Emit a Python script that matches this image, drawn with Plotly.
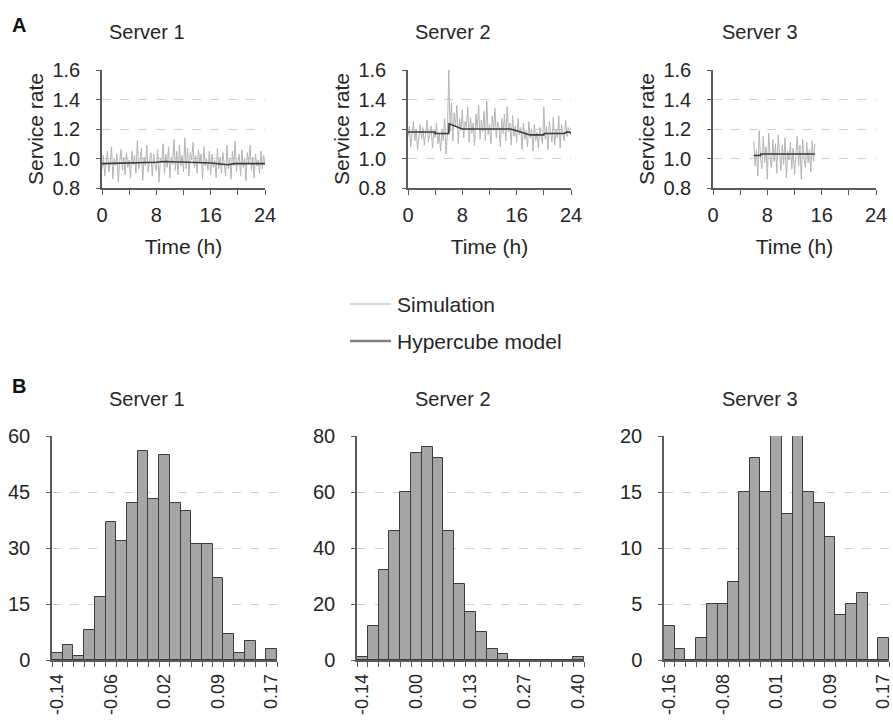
import plotly.graph_objects as go

W, H = 893, 722

# ---------------- Data ----------------
time_step = 0.2
sim_s1 = [0.93,1.02,0.88,0.99,1.05,0.91,0.97,1.08,0.86,1.00,
          0.95,1.03,0.84,0.98,1.06,0.92,1.01,0.89,1.04,0.94,
          0.99,0.87,1.05,0.96,1.02,0.90,1.12,0.93,0.98,1.07,
          0.85,1.01,0.95,1.09,0.91,0.99,1.04,0.88,1.03,0.96,
          0.92,1.06,0.84,1.00,0.97,1.10,0.90,1.03,0.94,1.08,
          0.87,1.01,0.96,1.13,0.92,1.05,0.89,1.09,0.95,1.02,
          0.91,1.14,0.93,1.07,0.88,1.04,0.99,1.11,0.94,1.02,
          0.90,1.06,0.97,1.03,0.86,1.08,0.95,1.00,0.92,1.05,
          0.89,1.03,0.94,0.99,0.87,1.07,0.93,1.01,0.90,1.04,
          0.96,0.88,1.09,0.93,1.00,0.86,1.05,0.95,1.12,0.91,
          0.98,1.03,0.88,1.06,0.94,1.00,0.85,1.04,0.97,1.09,
          0.92,1.01,0.87,1.03,0.95,0.99,0.90,1.05,0.93,1.02,
          0.96]
sim_s2 = [1.15,1.22,1.08,1.19,1.25,1.12,1.20,1.06,1.17,1.23,
          1.13,1.21,1.09,1.18,1.26,1.11,1.16,1.22,1.07,1.19,
          1.14,1.24,1.10,1.17,1.05,1.20,1.12,1.27,1.03,1.15,
          1.60,1.18,1.38,1.12,1.31,1.22,1.36,1.10,1.27,1.19,
          1.33,1.14,1.25,1.21,1.35,1.11,1.28,1.17,1.24,1.09,
          1.30,1.20,1.36,1.13,1.26,1.18,1.32,1.12,1.39,1.16,
          1.23,1.10,1.29,1.19,1.34,1.14,1.25,1.21,1.08,1.27,
          1.17,1.30,1.12,1.35,1.18,1.24,1.09,1.29,1.15,1.22,
          1.11,1.27,1.16,1.21,1.06,1.24,1.13,1.19,1.08,1.25,
          1.14,1.20,1.05,1.23,1.12,1.18,1.07,1.21,1.15,1.10,
          1.35,1.13,1.22,1.06,1.25,1.16,1.11,1.28,1.09,1.20,
          1.14,1.29,1.07,1.23,1.17,1.12,1.26,1.15,1.21,1.18,
          1.16]
sim_s3_start = 6.0
sim_s3 = [1.12,0.95,1.06,0.88,1.19,1.00,0.93,1.15,0.97,1.08,
          0.86,1.17,1.01,0.94,1.13,0.98,1.10,0.90,1.16,1.03,
          0.92,1.09,0.96,1.14,0.87,1.05,0.99,1.11,0.93,1.07,
          0.89,1.02,1.15,0.95,1.09,0.86,1.13,1.00,0.94,1.11,
          0.97,1.06,0.91,1.12,0.98,1.10]

model_s1_t = [0, 6, 8, 9, 16, 18.5, 19.5, 24]
model_s1_v = [0.965, 0.970, 0.975, 0.980, 0.970, 0.958, 0.965, 0.965]
model_s2_t = [0, 4, 4.01, 6, 6.05, 8, 15, 15.5, 18, 20, 20.05, 23, 23.5, 24]
model_s2_v = [1.18, 1.18, 1.17, 1.17, 1.235, 1.20, 1.20, 1.195, 1.16, 1.16, 1.17, 1.17, 1.18, 1.175]
model_s3_t = [6, 7, 7.01, 15]
model_s3_v = [1.02, 1.02, 1.03, 1.03]

hist_s1 = [2,4,1,8,17,37,32,42,56,43,55,42,40,31,31,22,7,2,5,0,3]
hist_s1_labels = ["-0.14", "-0.06", "0.02", "0.09", "0.17"]
hist_s2 = [1,12,32,46,60,74,76,72,46,27,17,10,4,2,0,0,0,0,0,0,1]
hist_s2_labels = ["-0.14", "0.00", "0.13", "0.27", "0.40"]
hist_s3 = [3,1,0,2,5,5,7,15,18,15,20,13,20,15,14,11,4,5,6,0,2]
hist_s3_labels = ["-0.16", "-0.08", "0.01", "0.09", "0.17"]
hist_label_pos = [0, 5, 10, 15, 20]

titles = ["Server 1", "Server 2", "Server 3"]

# ---------------- Style ----------------
FONT = "Liberation Sans, Arial, sans-serif"
TXT = "#262626"
AX = "#5a5a5a"
GRID = "#d0d0d0"
SIM_C = "#b4b4b4"
MOD_C = "#3a3a3a"
BAR_C = "#a6a6a6"
BAR_L = "#3c3c3c"
TICK_FS = 20
TITLE_FS = 21

def px_x(p): return p / W
def px_y(p): return 1 - p / H

fig = go.Figure()

top_x = [(102, 265), (408, 571), (713, 876)]
top_y = (70, 188)
bot_x = [(52, 277), (357, 584), (664, 889)]
bot_y = (436, 660)

def tsim(n, start=0.0):
    return [round(start + i * time_step, 3) for i in range(n)]

sims = [(tsim(len(sim_s1)), sim_s1), (tsim(len(sim_s2)), sim_s2), (tsim(len(sim_s3), sim_s3_start), sim_s3)]
models = [(model_s1_t, model_s1_v), (model_s2_t, model_s2_v), (model_s3_t, model_s3_v)]
hists = [(hist_s1, hist_s1_labels, 15, 60), (hist_s2, hist_s2_labels, 20, 80), (hist_s3, hist_s3_labels, 5, 20)]

layout = {}
for i in range(3):
    n = i + 1
    xa = "x" if n == 1 else f"x{n}"
    ya = "y" if n == 1 else f"y{n}"
    (st, sv), (mt, mv) = sims[i], models[i]
    fig.add_trace(go.Scatter(x=st, y=sv, mode="lines", line=dict(color=SIM_C, width=1),
                             xaxis=xa, yaxis=ya, showlegend=False, hoverinfo="skip"))
    fig.add_trace(go.Scatter(x=mt, y=mv, mode="lines", line=dict(color=MOD_C, width=1.6),
                             xaxis=xa, yaxis=ya, showlegend=False, hoverinfo="skip"))
    key = "" if n == 1 else str(n)
    layout[f"xaxis{key}"] = dict(
        domain=[px_x(top_x[i][0]), px_x(top_x[i][1])], anchor=ya, range=[0, 24], automargin=False,
        tickvals=[0, 8, 16, 24], ticks="outside", ticklen=5, tickcolor=AX, ticklabelstandoff=3,
        ticklabeloverflow="allow",
        minor=dict(tickvals=[4, 12, 20], ticks="outside", ticklen=5, tickcolor=AX),
        showline=True, linecolor=AX, linewidth=1.5, showgrid=False, zeroline=False,
        tickfont=dict(size=TICK_FS, color=TXT, family=FONT),
        title=dict(text="Time (h)", font=dict(size=TITLE_FS, color=TXT, family=FONT), standoff=15),
    )
    layout[f"yaxis{key}"] = dict(
        domain=[px_y(top_y[1]), px_y(top_y[0])], anchor=xa, range=[0.8, 1.6], automargin=False,
        tickvals=[0.8, 1.0, 1.2, 1.4, 1.6], tickformat=".1f", ticks="outside", ticklen=4, tickcolor=AX,
        ticklabelstandoff=12, ticklabeloverflow="allow",
        showline=True, linecolor=AX, linewidth=1.5, showgrid=True, gridcolor=GRID, griddash="dash",
        gridwidth=1, zeroline=False,
        tickfont=dict(size=TICK_FS, color=TXT, family=FONT),
        title=dict(text="Service rate", font=dict(size=TITLE_FS, color=TXT, family=FONT), standoff=3),
    )

for i in range(3):
    n = i + 4
    xa, ya = f"x{n}", f"y{n}"
    counts, labels, dt, ymax = hists[i]
    fig.add_trace(go.Bar(x=list(range(len(counts))), y=counts, width=1,
                         marker=dict(color=BAR_C, line=dict(color=BAR_L, width=1)),
                         xaxis=xa, yaxis=ya, showlegend=False, hoverinfo="skip"))
    layout[f"xaxis{n}"] = dict(
        domain=[px_x(bot_x[i][0]), px_x(bot_x[i][1])], anchor=ya, range=[-0.5, len(counts) - 0.5],
        automargin=False, ticklabeloverflow="allow",
        tickvals=hist_label_pos, ticktext=labels, tickangle=-90, ticks="", ticklabelstandoff=5,
        minor=dict(tick0=0.5, dtick=1, ticks="outside", ticklen=5, tickcolor=AX, showgrid=False),
        showline=True, linecolor=AX, linewidth=1.5, showgrid=False, zeroline=False,
        tickfont=dict(size=18, color=TXT, family=FONT),
    )
    layout[f"yaxis{n}"] = dict(
        domain=[px_y(bot_y[1]), px_y(bot_y[0])], anchor=xa, range=[0, ymax], automargin=False,
        dtick=dt, ticks="outside", ticklen=4, tickcolor=AX, ticklabelstandoff=12,
        ticklabeloverflow="allow",
        showline=True, linecolor=AX, linewidth=1.5, showgrid=True, gridcolor=GRID, griddash="dash",
        zeroline=False, tickfont=dict(size=TICK_FS, color=TXT, family=FONT),
    )

annotations = []
top_title_x = [147, 453, 760]
bot_title_x = [147, 453, 760]
for i in range(3):
    annotations.append(dict(text=titles[i], x=px_x(top_title_x[i]), y=px_y(32), xref="paper", yref="paper",
                            showarrow=False, xanchor="center", yanchor="middle",
                            font=dict(size=20, color=TXT, family=FONT)))
    annotations.append(dict(text=titles[i], x=px_x(bot_title_x[i]), y=px_y(399), xref="paper", yref="paper",
                            showarrow=False, xanchor="center", yanchor="middle",
                            font=dict(size=20, color=TXT, family=FONT)))
annotations.append(dict(text="<b>A</b>", x=px_x(10), y=px_y(25), xref="paper", yref="paper", showarrow=False,
                        xanchor="left", yanchor="middle", font=dict(size=20, color="#111", family=FONT)))
annotations.append(dict(text="<b>B</b>", x=px_x(10), y=px_y(386), xref="paper", yref="paper", showarrow=False,
                        xanchor="left", yanchor="middle", font=dict(size=20, color="#111", family=FONT)))

legend_items = [("Simulation", "#c8c8c8", 1.5, 304), ("Hypercube model", "#7f7f7f", 2.5, 341)]
shapes = []
for name, col, w, yp in legend_items:
    shapes.append(dict(type="line", xref="paper", yref="paper", x0=px_x(350), x1=px_x(391),
                       y0=px_y(yp), y1=px_y(yp), line=dict(color=col, width=w)))
    annotations.append(dict(text=name, x=px_x(395), y=px_y(yp), xref="paper", yref="paper", showarrow=False,
                            xanchor="left", yanchor="middle", font=dict(size=TITLE_FS, color=TXT, family=FONT)))

fig.update_layout(
    width=W, height=H, margin=dict(l=0, r=0, t=0, b=0, autoexpand=False),
    paper_bgcolor="white", plot_bgcolor="white", bargap=0,
    annotations=annotations, shapes=shapes, showlegend=False,
    font=dict(family=FONT, color=TXT),
    **layout,
)

fig.write_html("out.html")
